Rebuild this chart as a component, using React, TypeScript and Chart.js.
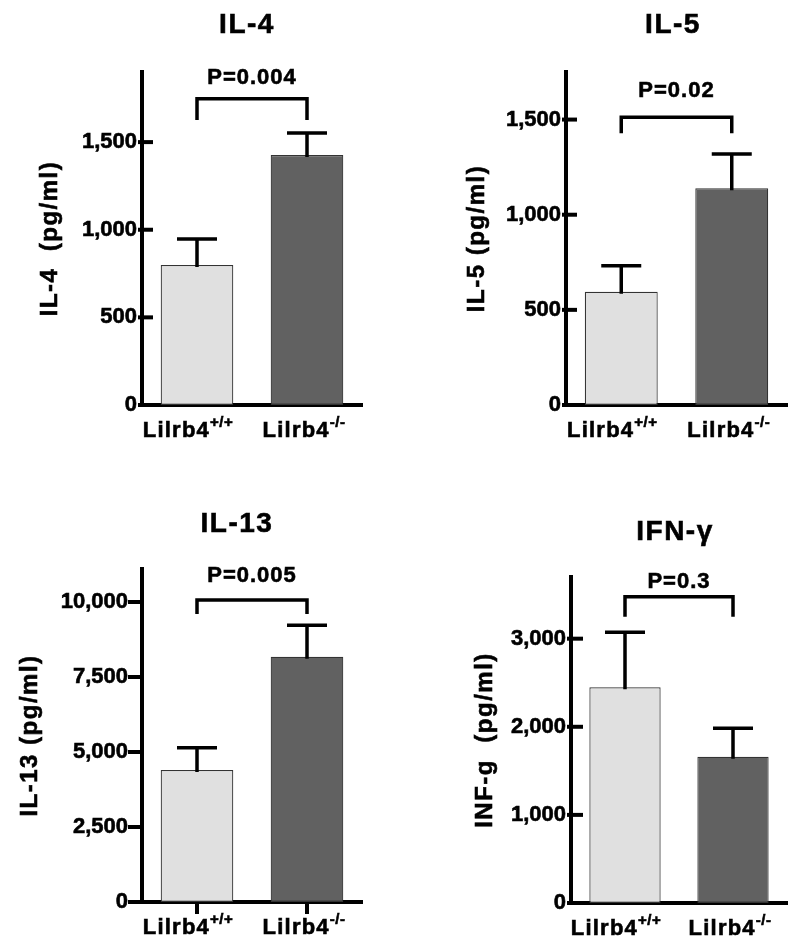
import React, { useEffect, useRef } from "react";
import { Chart, registerables } from "chart.js";

Chart.register(...registerables);

// ---------- data ----------
const GROUP_NAMES = ["Lilrb4", "Lilrb4"];
const GENOTYPES = ["+/+", "-/-"];

const TITLES = ["IL-4", "IL-5", "IL-13", "IFN-γ"];
const Y_LABELS = ["IL-4  (pg/ml)", "IL-5 (pg/ml)", "IL-13 (pg/ml)", "INF-g  (pg/ml)"];
const P_LABELS = ["P=0.004", "P=0.02", "P=0.005", "P=0.3"];

const IL4_MEANS = [799, 1426];
const IL4_SEM = [148, 126];
const IL5_MEANS = [595, 1139];
const IL5_SEM = [137, 180];
const IL13_MEANS = [4400, 8177];
const IL13_SEM = [743, 1046];
const IFNG_MEANS = [2448, 1660];
const IFNG_SEM = [624, 323];

const IL4_TICKS = [0, 500, 1000, 1500];
const IL5_TICKS = [0, 500, 1000, 1500];
const IL13_TICKS = [0, 2500, 5000, 7500, 10000];
const IFNG_TICKS = [0, 1000, 2000, 3000];

const Y_MAX = [1900, 1750, 11100, 3700];

// significance bracket levels (data units)
const BRACKET_LEVELS = [1747, 1512, 10067, 3476];
const BRACKET_LEG_ENDS = [1626, 1428, 9600, 3249];
const P_LEVELS = [1868, 1653, 10873, 3641];

const MEANS = [IL4_MEANS, IL5_MEANS, IL13_MEANS, IFNG_MEANS];
const SEMS = [IL4_SEM, IL5_SEM, IL13_SEM, IFNG_SEM];
const TICKS = [IL4_TICKS, IL5_TICKS, IL13_TICKS, IFNG_TICKS];

// ---------- layout / style ----------
const FONT = "'Liberation Sans', Arial, Helvetica, sans-serif";
const BAR_COLORS = ["#e0e0e0", "#616161"];
const X_LABEL_SHIFT = [-9, -3];
const TEXT_STROKE = 0.6;

type Layout = {
  x: number; y: number; w: number; h: number;
  left: number; top: number; right: number; bottom: number;
  titleX: number; titleBase: number;
  yLabelX: number;
  tickOuter: number; tickInner: number; labelPad: number;
  xTicks: boolean;
};

const LAYOUTS: Layout[] = [
  { x: 0, y: 0, w: 400, h: 470, left: 142, top: 72, right: 362, bottom: 405, titleX: 247, titleBase: 33, yLabelX: 50, tickOuter: 4, tickInner: 11, labelPad: 5, xTicks: false },
  { x: 400, y: 0, w: 400, h: 470, left: 166, top: 72, right: 387, bottom: 405, titleX: 273, titleBase: 33, yLabelX: 77, tickOuter: 4, tickInner: 11, labelPad: 5, xTicks: false },
  { x: 0, y: 470, w: 400, h: 477, left: 142, top: 99, right: 362, bottom: 432, titleX: 237, titleBase: 62, yLabelX: 30, tickOuter: 14, tickInner: 0, labelPad: 14, xTicks: true },
  { x: 400, y: 470, w: 400, h: 477, left: 171, top: 107, right: 387, bottom: 433, titleX: 275, titleBase: 70, yLabelX: 85, tickOuter: 4, tickInner: 12, labelPad: 5, xTicks: false },
];

function setSpacing(ctx: CanvasRenderingContext2D, px: number) {
  (ctx as any).letterSpacing = px + "px";
}

function boldText(ctx: CanvasRenderingContext2D, s: string, x: number, y: number) {
  ctx.fillText(s, x, y);
  ctx.lineWidth = TEXT_STROKE;
  ctx.strokeText(s, x, y);
}

function makeAnnotPlugin(i: number) {
  const L = LAYOUTS[i];
  return {
    id: "annot" + i,
    afterDatasetsDraw(chart: any) {
      const ctx: CanvasRenderingContext2D = chart.ctx;
      const ys = chart.scales.y;
      const meta = chart.getDatasetMeta(0);
      ctx.save();
      ctx.strokeStyle = "#000";
      ctx.lineWidth = 3.5;
      ctx.lineCap = "butt";
      meta.data.forEach((bar: any, k: number) => {
        const top = ys.getPixelForValue(MEANS[i][k] + SEMS[i][k]);
        const base = ys.getPixelForValue(MEANS[i][k]);
        ctx.beginPath();
        ctx.moveTo(bar.x, base + 2);
        ctx.lineTo(bar.x, top);
        ctx.moveTo(bar.x - 20, top);
        ctx.lineTo(bar.x + 20, top);
        ctx.stroke();
      });
      ctx.restore();
    },
    afterDraw(chart: any) {
      const ctx: CanvasRenderingContext2D = chart.ctx;
      const ys = chart.scales.y;
      const xs = chart.scales.x;
      const area = chart.chartArea;
      ctx.save();
      ctx.fillStyle = "#000";
      ctx.strokeStyle = "#000";

      // y tick marks
      ctx.lineWidth = 4;
      TICKS[i].forEach((v) => {
        const py = ys.getPixelForValue(v);
        ctx.beginPath();
        ctx.moveTo(area.left - L.tickOuter, py);
        ctx.lineTo(area.left + L.tickInner, py);
        ctx.stroke();
      });

      // x tick marks
      if (L.xTicks) {
        GROUP_NAMES.forEach((_, k) => {
          const px = xs.getPixelForValue(k);
          ctx.lineWidth = 4;
          ctx.beginPath();
          ctx.moveTo(px, area.bottom);
          ctx.lineTo(px, area.bottom + 12);
          ctx.stroke();
        });
      }

      // x labels with superscripts
      GROUP_NAMES.forEach((name, k) => {
        const px = xs.getPixelForValue(k);
        ctx.font = `bold 22px ${FONT}`;
        setSpacing(ctx, 1.2);
        const w1 = ctx.measureText(name).width;
        ctx.font = `bold 15px ${FONT}`;
        setSpacing(ctx, 0.5);
        const w2 = ctx.measureText(GENOTYPES[k]).width;
        const start = px - (w1 + w2) / 2 + X_LABEL_SHIFT[k];
        const base = area.bottom + 32;
        ctx.textAlign = "left";
        ctx.textBaseline = "alphabetic";
        ctx.font = `bold 22px ${FONT}`;
        setSpacing(ctx, 1.2);
        boldText(ctx, name, start, base);
        ctx.font = `bold 15px ${FONT}`;
        setSpacing(ctx, 0.5);
        boldText(ctx, GENOTYPES[k], start + w1, base - 10);
      });
      setSpacing(ctx, 0);

      // significance bracket
      const x1 = xs.getPixelForValue(0);
      const x2 = xs.getPixelForValue(1);
      const yb = ys.getPixelForValue(BRACKET_LEVELS[i]);
      const yl = ys.getPixelForValue(BRACKET_LEG_ENDS[i]);
      ctx.lineWidth = 3.5;
      ctx.lineJoin = "miter";
      ctx.beginPath();
      ctx.moveTo(x1, yl);
      ctx.lineTo(x1, yb);
      ctx.lineTo(x2, yb);
      ctx.lineTo(x2, yl);
      ctx.stroke();

      ctx.font = `bold 22px ${FONT}`;
      setSpacing(ctx, 1);
      ctx.textAlign = "center";
      ctx.textBaseline = "middle";
      boldText(ctx, P_LABELS[i], (x1 + x2) / 2, ys.getPixelForValue(P_LEVELS[i]));

      // title
      ctx.font = `bold 28px ${FONT}`;
      setSpacing(ctx, 1.5);
      ctx.textBaseline = "alphabetic";
      boldText(ctx, TITLES[i], L.titleX, L.titleBase);

      // y label
      ctx.font = `bold 24px ${FONT}`;
      setSpacing(ctx, 1.5);
      ctx.translate(L.yLabelX, (area.top + area.bottom) / 2);
      ctx.rotate(-Math.PI / 2);
      ctx.textBaseline = "middle";
      boldText(ctx, Y_LABELS[i], 0, 0);
      setSpacing(ctx, 0);
      ctx.restore();
    },
  };
}

function Panel({ idx }: { idx: number }) {
  const ref = useRef<HTMLCanvasElement>(null);
  const L = LAYOUTS[idx];
  useEffect(() => {
    if (!ref.current) return;
    const chart = new Chart(ref.current, {
      type: "bar",
      data: {
        labels: GROUP_NAMES.map((g, k) => g + GENOTYPES[k]),
        datasets: [
          {
            data: MEANS[idx],
            backgroundColor: BAR_COLORS,
            borderColor: "#333333",
            borderWidth: 1.2,
            borderSkipped: false,
            categoryPercentage: 1,
            barPercentage: 0.66,
          },
        ],
      },
      options: {
        responsive: false,
        animation: false,
        devicePixelRatio: 1,
        layout: {
          padding: { left: 0, top: L.top, right: L.w - L.right, bottom: 0 },
        },
        plugins: {
          legend: { display: false },
          title: { display: false },
          tooltip: { enabled: false },
        },
        scales: {
          x: {
            type: "category",
            grid: { display: false, drawTicks: false },
            border: { display: true, width: 4, color: "#000" },
            ticks: { display: false },
            afterFit: (scale: any) => {
              scale.height = L.h - L.bottom;
            },
          },
          y: {
            type: "linear",
            min: 0,
            max: Y_MAX[idx],
            grid: { display: false, drawTicks: false },
            border: { display: true, width: 4, color: "#000" },
            ticks: {
              color: "#000",
              padding: L.labelPad,
              textStrokeColor: "#000",
              textStrokeWidth: TEXT_STROKE,
              font: { family: FONT, size: 22, weight: "bold" },
              callback: (v: any) => Number(v).toLocaleString("en-US"),
            },
            afterBuildTicks: (scale: any) => {
              scale.ticks = TICKS[idx].map((v) => ({ value: v }));
            },
            afterFit: (scale: any) => {
              scale.width = L.left;
            },
          },
        },
      } as any,
      plugins: [makeAnnotPlugin(idx)],
    });
    return () => chart.destroy();
  }, [idx]);
  return (
    <canvas
      ref={ref}
      width={L.w}
      height={L.h}
      style={{ position: "absolute", left: L.x, top: L.y, width: L.w, height: L.h }}
    />
  );
}

export default function App() {
  return (
    <div style={{ position: "absolute", left: 0, top: 0, width: 800, height: 947, background: "#fff" }}>
      {LAYOUTS.map((_, i) => (
        <Panel key={i} idx={i} />
      ))}
    </div>
  );
}
